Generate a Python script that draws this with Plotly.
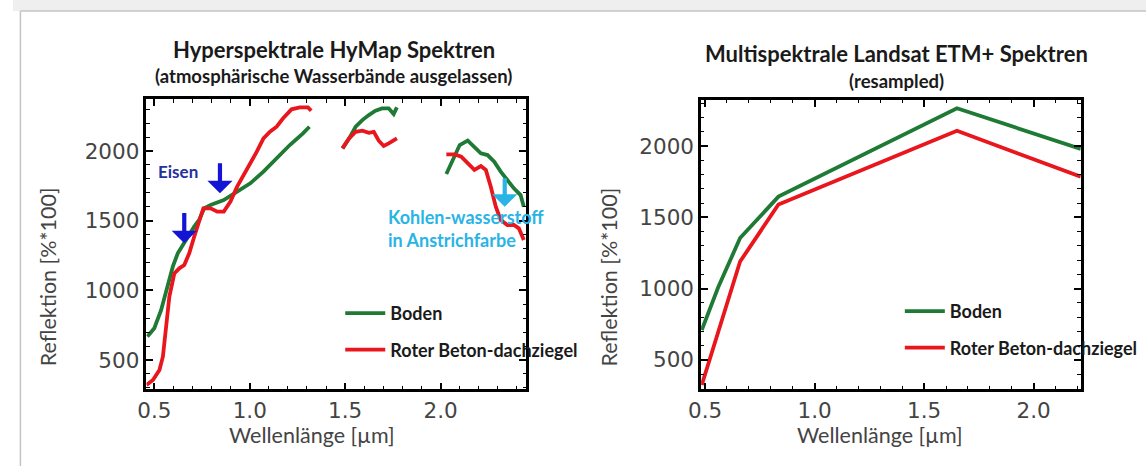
import plotly.graph_objects as go

# ---------------- data ----------------
# HyMap (hyperspectral) – water bands omitted (None = gap)
hymap_wl_boden = [0.464, 0.500, 0.536, 0.571, 0.597, 0.623, 0.649, 0.675, 0.709, 0.735,
                  0.761, 0.795, 0.864, 0.934, 1.003, 1.072, 1.141, 1.210, 1.279, 1.313,
                  None,
                  1.486, 1.521, 1.555, 1.590, 1.624, 1.659, 1.693, 1.728, 1.754, 1.771,
                  None,
                  2.030, 2.065, 2.100, 2.142, 2.177, 2.211, 2.246, 2.281, 2.315, 2.350,
                  2.384, 2.419, 2.436]
hymap_boden = [668, 728, 859, 1051, 1170, 1266, 1326, 1385, 1457, 1505,
               1589, 1613, 1648, 1708, 1768, 1852, 1947, 2043, 2127, 2174,
               None,
               2019, 2091, 2174, 2222, 2258, 2289, 2306, 2306, 2265, 2313,
               None,
               1835, 1935, 2043, 2074, 2031, 1983, 1971, 1923, 1852, 1792,
               1732, 1684, 1600]

hymap_wl_roter = [0.459, 0.493, 0.527, 0.545, 0.562, 0.579, 0.605, 0.631, 0.657, 0.683,
                  0.709, 0.735, 0.757, 0.795, 0.830, 0.864, 0.899, 0.934, 0.985, 1.037,
                  1.072, 1.106, 1.141, 1.175, 1.219, 1.262, 1.305, 1.322,
                  None,
                  1.486, 1.521, 1.555, 1.590, 1.624, 1.650, 1.676, 1.702, 1.728, 1.771,
                  None,
                  2.030, 2.074, 2.108, 2.142, 2.177, 2.211, 2.237, 2.263, 2.289, 2.315,
                  2.350, 2.384, 2.410, 2.436]
hymap_roter = [321, 357, 429, 524, 740, 955, 1122, 1158, 1182, 1266,
               1385, 1505, 1589, 1589, 1565, 1565, 1637, 1744, 1864, 1995,
               2091, 2138, 2174, 2235, 2299, 2313, 2313, 2289,
               None,
               2019, 2091, 2138, 2146, 2131, 2138, 2074, 2036, 2055, 2091,
               None,
               1976, 1976, 1959, 1912, 1864, 1892, 1864, 1744, 1600, 1505,
               1469, 1469, 1445, 1361]

# Landsat ETM+ (resampled) band centres
landsat_wl = [0.485, 0.560, 0.660, 0.835, 1.650, 2.215]
landsat_boden = [710, 1010, 1355, 1645, 2265, 1980]
landsat_roter = [324, 690, 1190, 1590, 2107, 1785]

series_names = ["Boden", "Roter Beton-dachziegel"]
tick_x = [0.5, 1.0, 1.5, 2.0]
tick_x_text = ["0.5", "1.0", "1.5", "2.0"]
tick_y = [500, 1000, 1500, 2000]
tick_y_text = ["500", "1000", "1500", "2000"]

# ---------------- style ----------------
GREEN = "#1e7a34"
RED = "#e9161d"
W, H = 1146, 466
TICKFONT = dict(family="DejaVu Sans", size=21.5, color="#444444")
TXT = "Lato"


def px(xp):
    return xp / W


def py(yp):
    return 1 - yp / H


fig = go.Figure()

fig.add_trace(go.Scatter(x=hymap_wl_boden, y=hymap_boden, mode="lines", name=series_names[0],
                         line=dict(color=GREEN, width=3.8), connectgaps=False,
                         xaxis="x", yaxis="y", legend="legend", legendgroup="a"))
fig.add_trace(go.Scatter(x=hymap_wl_roter, y=hymap_roter, mode="lines", name=series_names[1],
                         line=dict(color=RED, width=3.8), connectgaps=False,
                         xaxis="x", yaxis="y", legend="legend", legendgroup="b"))
fig.add_trace(go.Scatter(x=landsat_wl, y=landsat_boden, mode="lines", name=series_names[0],
                         line=dict(color=GREEN, width=3.8),
                         xaxis="x2", yaxis="y2", legend="legend2", legendgroup="c"))
fig.add_trace(go.Scatter(x=landsat_wl, y=landsat_roter, mode="lines", name=series_names[1],
                         line=dict(color=RED, width=3.8),
                         xaxis="x2", yaxis="y2", legend="legend2", legendgroup="d"))

axis_common = dict(showline=True, linecolor="black", linewidth=2.5, mirror="ticks",
                   ticks="inside", ticklen=7, tickwidth=1.6, tickcolor="black",
                   showgrid=False, zeroline=False, tickfont=TICKFONT)
minor_x = dict(dtick=0.1, tick0=0.5, ticks="inside", ticklen=3.5, tickwidth=1.4, tickcolor="black")
minor_y = dict(dtick=100, tick0=0, ticks="inside", ticklen=3.5, tickwidth=1.4, tickcolor="black")
legend_font = dict(family=TXT, size=18, color="#1a1a1a", weight="bold")

fig.update_layout(
    width=W, height=H, autosize=False,
    margin=dict(l=0, r=0, t=0, b=0),
    paper_bgcolor="white", plot_bgcolor="white",
    xaxis=dict(domain=[px(135), px(519)], range=[0.459, 2.448], anchor="y",
               tickvals=tick_x, ticktext=tick_x_text, minor=minor_x, **axis_common),
    yaxis=dict(domain=[py(389.3), py(99.3)], range=[290, 2371], anchor="x",
               tickvals=tick_y, ticktext=tick_y_text, minor=minor_y, **axis_common),
    xaxis2=dict(domain=[px(696), px(1080)], range=[0.482, 2.215], anchor="y2",
                tickvals=tick_x, ticktext=tick_x_text, minor=minor_x, **axis_common),
    yaxis2=dict(domain=[py(389.3), py(100)], range=[294, 2323], anchor="x2",
                tickvals=tick_y, ticktext=tick_y_text, minor=minor_y, **axis_common),
    legend=dict(x=px(331), y=py(295), xanchor="left", yanchor="top",
                bgcolor="rgba(0,0,0,0)", itemwidth=40, tracegroupgap=10, font=legend_font),
    legend2=dict(x=px(897), y=py(293), xanchor="left", yanchor="top",
                 bgcolor="rgba(0,0,0,0)", itemwidth=40, tracegroupgap=10, font=legend_font),
)

ann = []
# titles
ann.append(dict(text="<b>Hyperspektrale HyMap Spektren</b>", x=px(324.5), y=py(49.3),
                font=dict(family=TXT, size=22, color="#1a1a1a")))
ann.append(dict(text="<b>(atmosphärische Wasserbände ausgelassen)</b>", x=px(324), y=py(76),
                font=dict(family=TXT, size=18.5, color="#1a1a1a")))
ann.append(dict(text="<b>Multispektrale Landsat ETM+ Spektren</b>", x=px(894), y=py(53.3),
                font=dict(family=TXT, size=22, color="#1a1a1a")))
ann.append(dict(text="<b>(resampled)</b>", x=px(894), y=py(81),
                font=dict(family=TXT, size=18.5, color="#1a1a1a")))
# axis titles
for xx in (302.5, 876.7):
    ann.append(dict(text="Wellenlänge [µm]", x=px(xx), y=py(435),
                    font=dict(family=TXT, size=21.5, color="#444444")))
for xx in (35, 602.7):
    ann.append(dict(text="Reflektion [%*100]", x=px(xx), y=py(276.7), textangle=-90,
                    font=dict(family=TXT, size=21.5, color="#444444")))
for a in ann:
    a.update(xref="paper", yref="paper", showarrow=False, xanchor="center", yanchor="middle")

# in-plot labels and arrows
ann.append(dict(text="<b>Eisen</b>", x=0.626, y=1852, xref="x", yref="y", showarrow=False,
                font=dict(family=TXT, size=17, color="#24309e")))
ann.append(dict(text="<b>Kohlen-wasserstoff<br>in Anstrichfarbe</b>", x=1.712, y=1445,
                xref="x", yref="y", showarrow=False, xanchor="left", align="left",
                font=dict(family=TXT, size=18, color="#2ab4e6")))
for (xa, yt, yh, col) in [(0.657, 1338, 1565, "#1414d4"), (0.844, 1697, 1923, "#1414d4"),
                          (2.336, 1600, 1816, "#2ab4e6")]:
    ann.append(dict(text="", x=xa, y=yt, ax=xa, ay=yh, xref="x", yref="y", axref="x", ayref="y",
                    showarrow=True, arrowhead=1, arrowsize=1.0, arrowwidth=4.2, arrowcolor=col))

fig.update_layout(annotations=ann)

# page frame of the original screenshot
fig.update_layout(shapes=[
    dict(type="rect", xref="paper", yref="paper", x0=0, x1=1, y0=py(11), y1=1,
         fillcolor="#efefef", line=dict(width=0), layer="below"),
    dict(type="line", xref="paper", yref="paper", x0=px(7.5), x1=1, y0=py(11), y1=py(11),
         line=dict(color="#c4c4c4", width=1.5)),
    dict(type="line", xref="paper", yref="paper", x0=px(7.5), x1=px(7.5), y0=0, y1=py(11),
         line=dict(color="#c4c4c4", width=1.5)),
])

fig.write_html("out.html", config={"displayModeBar": False},
               post_script="document.body.style.margin='0';document.body.style.overflow='hidden';")
